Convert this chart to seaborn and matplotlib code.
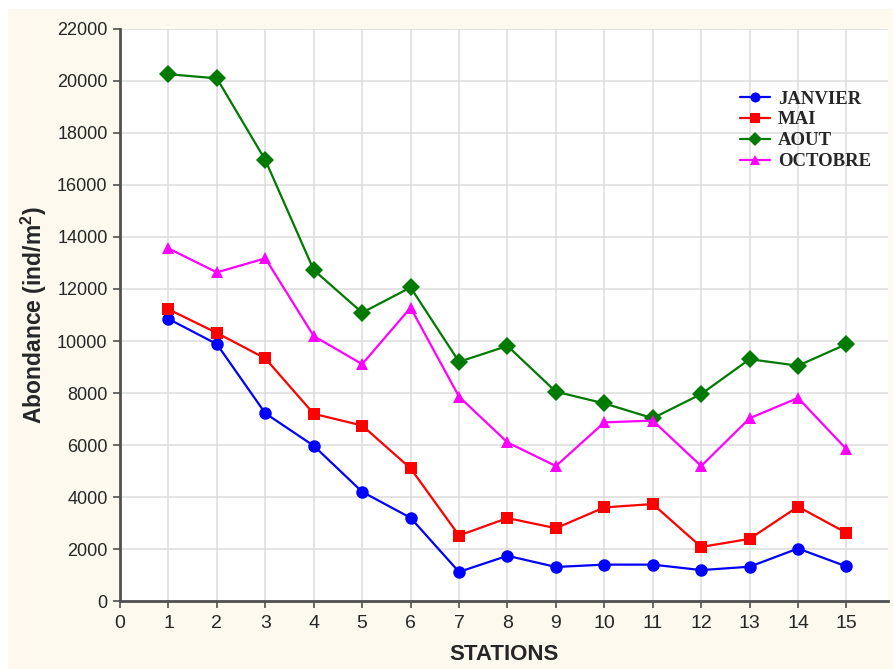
import matplotlib
matplotlib.use("Agg")
import matplotlib.pyplot as plt
from matplotlib.patches import Rectangle
import pandas as pd
import seaborn as sns

# station numbers and monthly abundance values (ind/m2)
stations = list(range(1, 16))
janvier = [10850, 9880, 7220, 5970, 4200, 3200, 1120, 1740, 1310, 1400, 1400, 1190, 1320, 2020, 1330]
mai = [11220, 10310, 9330, 7200, 6750, 5100, 2520, 3190, 2800, 3600, 3730, 2080, 2390, 3630, 2620]
aout = [20260, 20100, 16960, 12730, 11090, 12060, 9200, 9810, 8050, 7600, 7030, 7960, 9300, 9050, 9880]
octobre = [13560, 12640, 13180, 10190, 9110, 11280, 7860, 6100, 5190, 6870, 6940, 5190, 7030, 7810, 5840]

months = ["JANVIER", "MAI", "AOUT", "OCTOBRE"]
colors = ["#0000ff", "#ff0000", "#007a00", "#ff00ff"]
marker_list = ["o", "s", "D", "^"]
x_ticks = list(range(0, 16))
y_ticks = list(range(0, 22001, 2000))

frames = []
for name, vals in zip(months, [janvier, mai, aout, octobre]):
    frames.append(pd.DataFrame({"station": stations, "abondance": vals, "mois": name}))
df = pd.concat(frames, ignore_index=True)

sns.set_style("white")
plt.rcParams["font.family"] = ["Liberation Sans", "DejaVu Sans"]
plt.rcParams["mathtext.fontset"] = "custom"
plt.rcParams["mathtext.rm"] = "Liberation Sans:bold"
plt.rcParams["mathtext.bf"] = "Liberation Sans:bold"

fig = plt.figure(figsize=(8.93, 6.69), dpi=100, facecolor="white")
# cream background panel (white margin at top/left like the source)
fig.patches.append(Rectangle((0.009, 0.0), 0.991, 0.986, transform=fig.transFigure,
                             facecolor="#fdf9ee", edgecolor="none", zorder=-10))
ax = fig.add_axes([0.1344, 0.1016, 0.8596, 0.8551])
ax.set_facecolor("white")

sns.lineplot(data=df, x="station", y="abondance", hue="mois", style="mois",
             hue_order=months, style_order=months, palette=colors,
             markers=marker_list, dashes=False, linewidth=1.6, markersize=9,
             markeredgewidth=0, ax=ax)

ax.set_xlim(0, 15.85)
ax.set_ylim(0, 22000)
ax.set_xticks(x_ticks)
ax.set_yticks(y_ticks)
ax.grid(True, color="#dcdcdc", linewidth=1.1)
ax.set_axisbelow(True)

for side in ("top", "right"):
    ax.spines[side].set_visible(False)
for side in ("left", "bottom"):
    ax.spines[side].set_color("#505050")
    ax.spines[side].set_linewidth(2)

ax.tick_params(axis="both", direction="out", length=5, width=1.2, color="#505050",
               bottom=True, left=True)
ax.tick_params(axis="y", labelsize=13, pad=4)
ax.tick_params(axis="x", pad=5)
for lab in ax.get_xticklabels():
    lab.set_family(["Liberation Sans Narrow", "Liberation Sans"])
    lab.set_fontsize(14)

ax.set_xlabel("STATIONS", fontsize=16, fontweight="bold", labelpad=9,
              family=["Liberation Sans Narrow", "Liberation Sans"])
ax.set_ylabel(r"Abondance (ind/m$^{\mathbf{2}}$)", fontsize=16.5, fontweight="bold", labelpad=6)

leg = ax.legend(loc="upper left", bbox_to_anchor=(0.786, 0.922), frameon=False,
                prop={"family": "Liberation Serif", "weight": "bold", "size": 13.5},
                handlelength=1.6, handletextpad=0.4, labelspacing=0.2,
                markerscale=0.8, title=None)

fig.savefig("out.png", dpi=100, facecolor=fig.get_facecolor())
